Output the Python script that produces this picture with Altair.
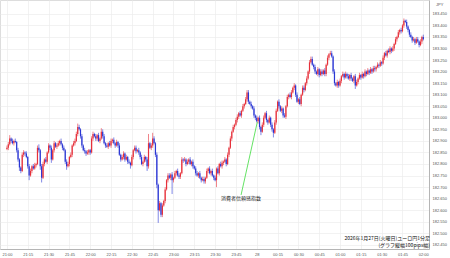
import altair as alt
import pandas as pd

# ---- data (prices in pips above 182.00, one value per 1-minute candle from 21:00) ----
first_open = 86.5
closes = [
    87, 88.5, 91, 90, 89, 90, 89.5, 86, 82, 78.5,
    77, 84, 85, 84.5, 83, 79, 75, 77, 79, 78,
    79.5, 80, 87, 86, 79, 74, 80, 82, 81, 85,
    88, 87, 82, 86, 89, 87.5, 88, 89, 90, 88.5,
    87, 86, 81, 79, 80, 83, 84, 88, 89, 90,
    93, 96, 95, 92, 88, 86, 85.5, 84.5, 85, 86,
    85, 91, 93, 92, 91, 92.5, 90, 91, 94, 92,
    89, 88, 87.5, 89, 88, 90, 90.5, 89, 88, 89.5,
    88, 84, 82, 83, 84.5, 82, 83, 81, 80.5, 79.5,
    83, 86, 87, 85.5, 86, 85, 83, 80, 81, 83,
    82, 79, 89, 87, 88, 91, 89, 84, 71, 60,
    63, 58, 62, 64, 69, 73, 75, 74, 75.5, 73,
    74, 76, 77, 75, 74.5, 76, 82, 81.5, 82, 80,
    81, 82, 80, 81, 79, 78, 76, 75, 76, 74,
    73, 73.5, 72.5, 74, 77, 78, 76, 77, 75, 74,
    73, 78, 76, 80, 79, 80.5, 81, 82, 80, 84,
    87, 91, 94, 96, 97, 99, 100.5, 102, 101, 103,
    105, 106, 108, 111, 107, 106, 105, 104, 101, 100,
    98.5, 100, 96, 94, 97, 100, 102, 99, 98, 100,
    97, 95, 93.5, 98, 103, 107, 105, 103, 104, 101,
    100.5, 105, 109, 110, 109, 111, 113, 114, 110, 107,
    108, 106, 110, 113, 112, 115, 117, 120, 124, 125.5,
    123, 122, 120, 119, 121, 118.5, 120, 119, 120.5, 119,
    123, 126, 127.5, 128, 126.5, 120, 115, 114, 115.5, 114,
    116, 118, 119, 117.5, 119, 118, 117, 118.5, 117, 116,
    118, 114, 115.5, 117, 118.5, 117.5, 119, 118, 120, 119,
    120.5, 119.5, 121, 120, 121.5, 121, 122, 123, 122.5, 124,
    123.5, 126, 128, 127, 129, 128.5, 130, 129, 130, 132,
    134, 135, 137, 138, 137.5, 140, 142, 141.5, 139.5, 138,
    136, 135, 133.5, 134, 132.5, 134, 133, 131.5, 133, 135, 134,
]
upper_wicks = [
    1, 1, 1.5, 0.5, 1, 0.5, 1, 0.5, 1, 0.5,
    0.5, 1, 1, 0.5, 1, 0.5, 1, 1, 0.5, 1,
    1, 0.5, 1, 1.5, 0.5, 1, 1, 0.5, 1, 0.5,
    1, 0.5, 1, 0.5, 1, 0.5, 1, 1, 0.5, 1,
    0.5, 1, 0.5, 1, 1, 0.5, 1, 0.5, 1, 1,
    1, 1.5, 1, 0.5, 1, 0.5, 1, 0.5, 1, 0.5,
    0.5, 1, 1, 0.5, 1, 0.5, 1, 0.5, 1.5, 1,
    1, 0.5, 1, 0.5, 1, 1, 0.5, 1, 0.5, 1,
    0.5, 1, 0.5, 1, 1, 0.5, 1, 0.5, 1, 0.5,
    1, 0.5, 1, 1, 0.5, 1, 0.5, 1, 0.5, 1,
    0.5, 1, 4, 0.5, 1, 2.5, 1, 0.5, 1, 0.5,
    1, 0.5, 1, 0.5, 1, 0.5, 1, 1, 0.5, 1,
    0.5, 1, 0.5, 1, 1, 0.5, 1, 0.5, 1, 0.5,
    1, 0.5, 1, 0.5, 1, 0.5, 1, 1, 0.5, 1,
    0.5, 1, 1, 0.5, 1, 0.5, 1, 0.5, 1, 0.5,
    1, 0.5, 1, 0.5, 1, 1, 0.5, 1, 0.5, 1,
    0.5, 1, 0.5, 1, 0.5, 1, 1, 0.5, 1, 0.5,
    1, 0.5, 1, 1, 1, 0.5, 1, 0.5, 1, 0.5,
    1, 0.5, 1, 0.5, 1, 1, 0.5, 1, 0.5, 1,
    0.5, 1, 0.5, 1, 1, 0.5, 1, 0.5, 1, 0.5,
    1, 0.5, 1, 0.5, 1, 1, 0.5, 1, 0.5, 1,
    0.5, 1, 0.5, 1, 1, 0.5, 1, 0.5, 1, 1,
    1, 0.5, 1, 0.5, 1, 0.5, 1, 1, 0.5, 1,
    0.5, 1, 0.5, 1, 1, 0.5, 1, 0.5, 1, 0.5,
    1, 0.5, 1, 0.5, 1, 0.5, 1, 0.5, 1, 0.5,
    0.5, 1, 1, 0.5, 1, 0.5, 1, 0.5, 1, 0.5,
    1, 0.5, 1, 0.5, 1, 1, 0.5, 1, 0.5, 1,
    0.5, 1, 0.5, 1, 0.5, 1, 1, 0.5, 1, 0.5,
    1, 0.5, 1, 0.5, 1, 0.5, 1, 0.5, 1, 0.5,
    0.5, 1, 0.5, 1, 0.5, 1, 1, 0.5, 1, 0.5, 1,
]
lower_wicks = [
    0.5, 1, 0.5, 1, 0.5, 1, 0.5, 1, 1, 1.5,
    1, 0.5, 1, 1, 0.5, 1, 2, 0.5, 1, 0.5,
    0.5, 1, 0.5, 1, 1.5, 2, 0.5, 1, 0.5, 1,
    0.5, 1, 1.5, 0.5, 1, 0.5, 1, 0.5, 1, 0.5,
    1, 0.5, 1, 1.5, 0.5, 1, 0.5, 1, 0.5, 1,
    0.5, 1, 0.5, 1, 1, 0.5, 1, 1, 0.5, 1,
    1, 0.5, 1, 0.5, 1, 1, 0.5, 1, 0.5, 1,
    0.5, 1, 0.5, 1, 0.5, 1, 1, 0.5, 1, 0.5,
    1, 0.5, 1, 0.5, 1, 1, 0.5, 1, 0.5, 1.5,
    0.5, 1, 0.5, 1, 0.5, 1, 1, 0.5, 1, 0.5,
    1, 2, 1, 0.5, 1, 1, 0.5, 1, 1.5, 5.5,
    0.5, 1, 1, 0.5, 1, 0.5, 1, 0.5, 1, 6,
    1, 0.5, 1, 0.5, 1, 1, 0.5, 1, 0.5, 1,
    0.5, 1, 0.5, 1, 1, 0.5, 1, 0.5, 1, 0.5,
    1, 0.5, 1, 1, 0.5, 1, 0.5, 1, 0.5, 1,
    0.5, 3, 0.5, 1, 0.5, 1, 1, 0.5, 1, 0.5,
    1, 0.5, 1, 0.5, 1, 0.5, 1, 1, 0.5, 1,
    0.5, 1, 0.5, 1, 1, 0.5, 1, 0.5, 1, 1,
    0.5, 1, 1, 1.5, 0.5, 1, 0.5, 1, 1, 0.5,
    1, 1, 2, 0.5, 1, 0.5, 1, 0.5, 1, 1,
    0.5, 1, 0.5, 1, 0.5, 1, 0.5, 1, 1, 0.5,
    1, 0.5, 1, 0.5, 1, 0.5, 1, 0.5, 1, 0.5,
    0.5, 1, 1, 0.5, 1, 1, 0.5, 1, 0.5, 1,
    1, 0.5, 1, 0.5, 0.5, 1, 1, 0.5, 1, 1,
    0.5, 1, 0.5, 1, 0.5, 1, 0.5, 1, 1, 0.5,
    1, 1.5, 0.5, 1, 0.5, 1, 0.5, 1, 0.5, 1,
    0.5, 1, 0.5, 1, 0.5, 1, 1, 0.5, 1, 0.5,
    1, 0.5, 1, 0.5, 1, 0.5, 1, 1, 0.5, 1,
    0.5, 1, 0.5, 1, 1, 0.5, 1, 0.5, 1, 1,
    1, 0.5, 1, 0.5, 1, 0.5, 0.5, 1, 0.5, 1, 0.5,
]

x_tick_minutes = [0, 15, 30, 45, 60, 75, 90, 105, 120, 135, 150, 165,
                  180, 195, 210, 225, 240, 255, 270, 285, 300]
x_tick_labels = ["21:00", "21:15", "21:30", "21:45", "22:00", "22:15", "22:30",
                 "22:45", "23:00", "23:15", "23:30", "23:45", "28", "00:15",
                 "00:30", "00:45", "01:00", "01:15", "01:30", "01:45", "02:00"]
y_tick_values = [182.45, 182.50, 182.55, 182.60, 182.65, 182.70, 182.75,
                 182.80, 182.85, 182.90, 182.95, 183.00, 183.05, 183.10,
                 183.15, 183.20, 183.25, 183.30, 183.35, 183.40, 183.45]

event_label = "消費者信頼感指数"
event_minutes = [180.4, 168.7]
event_prices = [182.982, 182.666]
note_line1 = "2026年1月27日(火曜日)ユーロ円1分足"
note_line2 = "(グラフ縦幅100pips幅)"
unit_label = "JPY"

# ---- build table ----
rows = []
prev = first_open
for i, c in enumerate(closes):
    o = prev
    hi = max(o, c) + upper_wicks[i]
    lo = min(o, c) - lower_wicks[i]
    rows.append({
        "m": i,
        "open": 182 + o / 100,
        "close": 182 + c / 100,
        "high": 182 + hi / 100,
        "low": 182 + lo / 100,
        "dir": "up" if c >= o else "down",
    })
    prev = c
df = pd.DataFrame(rows)

label_expr = "''"
for v, lab in zip(reversed(x_tick_minutes), reversed(x_tick_labels)):
    label_expr = f"datum.value == {v} ? '{lab}' : ({label_expr})"

AX_FONT = "Liberation Sans"
x_axis = alt.Axis(values=x_tick_minutes, labelExpr=label_expr, title=None,
                  grid=True, gridColor="#ececec", gridWidth=0.7, ticks=False,
                  domainColor="#b5b5b5", domainWidth=1, labelFontSize=4,
                  labelColor="#555555", labelFont=AX_FONT, labelFlush=False,
                  labelOverlap=False, labelBound=False, labelPadding=3)
y_axis = alt.Axis(values=y_tick_values, format=".3f", orient="right", title=None,
                  grid=True, gridColor="#ececec", gridWidth=0.7, ticks=False,
                  domainColor="#b5b5b5", domainWidth=1, labelFontSize=4,
                  labelColor="#555555", labelFont=AX_FONT, labelOverlap=False,
                  labelFlush=False, labelPadding=3, labelAlign="left")
x_scale = alt.Scale(domain=[-1.4, 300.5], nice=False, zero=False)
y_scale = alt.Scale(domain=[182.432, 183.51], nice=False, zero=False)
color = alt.Color("dir:N", scale=alt.Scale(domain=["up", "down"],
                                           range=["#e6303a", "#2a36d4"]), legend=None)

base = alt.Chart(df)
wicks = base.mark_rule(strokeWidth=0.6).encode(
    x=alt.X("m:Q", scale=x_scale, axis=x_axis),
    y=alt.Y("low:Q", scale=y_scale, axis=y_axis),
    y2="high:Q",
    color=color,
)
bodies = base.mark_bar(size=1.2).encode(
    x=alt.X("m:Q", scale=x_scale, axis=x_axis),
    y=alt.Y("open:Q", scale=y_scale, axis=y_axis),
    y2="close:Q",
    color=color,
)

ev_df = pd.DataFrame({"m": event_minutes, "p": event_prices})
ev_line = alt.Chart(ev_df).mark_line(color="#3ddc3d", strokeWidth=0.8).encode(
    x=alt.X("m:Q", scale=x_scale, axis=x_axis),
    y=alt.Y("p:Q", scale=y_scale, axis=y_axis),
)
ev_text_df = pd.DataFrame({"m": [event_minutes[1]], "p": [event_prices[1]], "t": [event_label]})
ev_text = alt.Chart(ev_text_df).mark_text(
    font="Noto Sans CJK JP", fontSize=5, color="#222222", baseline="top", dy=1.5
).encode(
    x=alt.X("m:Q", scale=x_scale, axis=x_axis),
    y=alt.Y("p:Q", scale=y_scale, axis=y_axis),
    text="t:N",
)

note1 = alt.Chart(pd.DataFrame({"t": [note_line1]})).mark_text(
    font="Noto Sans CJK JP", fontSize=5, color="#111111", align="right", baseline="middle"
).encode(x=alt.value(430), y=alt.value(238), text="t:N")
note2 = alt.Chart(pd.DataFrame({"t": [note_line2]})).mark_text(
    font="Noto Sans CJK JP", fontSize=5, color="#111111", align="right", baseline="middle"
).encode(x=alt.value(430), y=alt.value(244.5), text="t:N")

unit = alt.Chart(pd.DataFrame({"t": [unit_label]})).mark_text(
    font=AX_FONT, fontSize=4, color="#555555", align="left", baseline="middle"
).encode(x=alt.value(436), y=alt.value(5), text="t:N")

chart = alt.layer(wicks, bodies, ev_line, ev_text, note1, note2, unit).properties(
    width=429, height=249,
    autosize=alt.AutoSizeParams(type="none"),
    padding={"left": 0, "top": 0, "right": 21, "bottom": 9},
).configure_view(stroke=None).configure(background="white")

chart.save("out.html", embed_options={"renderer": "svg", "actions": False})
